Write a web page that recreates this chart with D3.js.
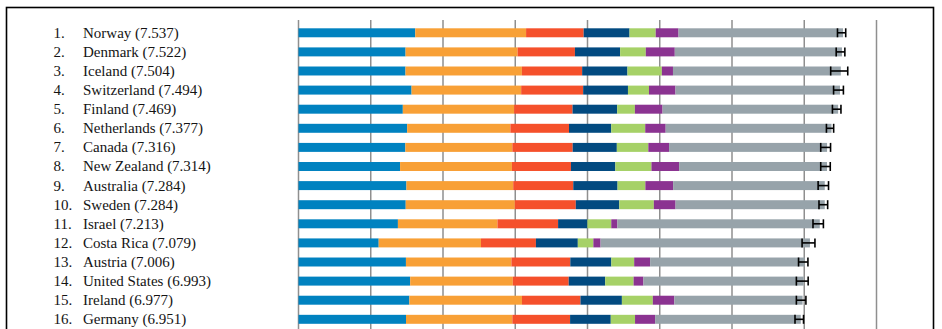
<!DOCTYPE html>
<html>
<head>
<meta charset="utf-8">
<script src="https://cdn.jsdelivr.net/npm/d3@7"></script>
<style>
    body { margin: 0; background: #fff; }
    .label { font-family: "Liberation Serif", "Times New Roman", serif; font-size: 15px; fill: #141414; }
</style>
</head>
<body>
<div id="ranking"></div>
<script>
const countries = ["Norway", "Denmark", "Iceland", "Switzerland", "Finland", "Netherlands", "Canada",
    "New Zealand", "Australia", "Sweden", "Israel", "Costa Rica", "Austria", "United States", "Ireland", "Germany"];
const scores = ["7.537", "7.522", "7.504", "7.494", "7.469", "7.377", "7.316",
    "7.314", "7.284", "7.284", "7.213", "7.079", "7.006", "6.993", "6.977", "6.951"];

// explained components of each score, in stacking order
const gdpPerCapita   = [1.616, 1.482, 1.481, 1.565, 1.444, 1.504, 1.479, 1.406, 1.494, 1.484, 1.376, 1.110, 1.487, 1.546, 1.535, 1.488];
const socialSupport  = [1.534, 1.551, 1.611, 1.517, 1.540, 1.429, 1.481, 1.548, 1.478, 1.510, 1.378, 1.416, 1.460, 1.420, 1.558, 1.472];
const lifeExpectancy = [0.797, 0.793, 0.834, 0.858, 0.809, 0.811, 0.835, 0.817, 0.831, 0.844, 0.839, 0.760, 0.815, 0.774, 0.810, 0.799];
const freedom        = [0.635, 0.626, 0.627, 0.620, 0.618, 0.585, 0.611, 0.614, 0.613, 0.602, 0.406, 0.580, 0.568, 0.505, 0.573, 0.563];
const generosity     = [0.362, 0.355, 0.476, 0.291, 0.245, 0.470, 0.436, 0.500, 0.385, 0.478, 0.330, 0.215, 0.316, 0.393, 0.428, 0.336];
const corruption     = [0.316, 0.401, 0.154, 0.367, 0.383, 0.283, 0.287, 0.383, 0.384, 0.301, 0.085, 0.100, 0.221, 0.136, 0.298, 0.278];
const dystopia       = [2.277, 2.314, 2.323, 2.277, 2.430, 2.295, 2.187, 2.047, 2.099, 2.065, 2.801, 2.898, 2.139, 2.218, 1.775, 2.016];

// 95% confidence interval of each score
const whiskerLow  = [7.460, 7.442, 7.366, 7.406, 7.390, 7.307, 7.228, 7.228, 7.192, 7.204, 7.121, 6.970, 6.921, 6.891, 6.891, 6.872];
const whiskerHigh = [7.574, 7.562, 7.602, 7.542, 7.508, 7.407, 7.364, 7.360, 7.336, 7.324, 7.265, 7.148, 7.051, 7.054, 7.023, 6.990];

const gridTicks = [0, 1, 2, 3, 4, 5, 6, 7, 8];

const components = ["gdp", "social", "health", "freedom", "generosity", "corruption", "dystopia"];
const componentColors = ["#0082c0", "#f8a036", "#f5502b", "#024a80", "#a6d167", "#8b3391", "#97a3aa"];

const rows = countries.map((c, i) => ({
    country: c,
    score: scores[i],
    gdp: gdpPerCapita[i],
    social: socialSupport[i],
    health: lifeExpectancy[i],
    freedom: freedom[i],
    generosity: generosity[i],
    corruption: corruption[i],
    dystopia: dystopia[i],
    low: whiskerLow[i],
    high: whiskerHigh[i]
}));

const width = 942;
const height = 329;

const svg = d3.select('#ranking')
    .append('svg')
        .attr('viewBox', [0, 0, width, height])
        .attr('width', width)
        .attr('height', height);

const x = d3.scaleLinear()
    .domain([0, 8])
    .range([298.5, 876.5]);

const y = d3.scaleBand()
    .domain(countries)
    .range([28.3, 323.8])
    .paddingInner(0.53)
    .paddingOuter(0);

const color = d3.scaleOrdinal()
    .domain(components)
    .range(componentColors);

// frame round the figure
svg.append('rect')
    .attr('x', 6.5)
    .attr('y', 7.5)
    .attr('width', 927)
    .attr('height', 400)
    .attr('fill', 'none')
    .attr('stroke', '#000')
    .attr('stroke-width', 1.6);

// vertical grid lines, behind the bars
svg.append('g')
    .selectAll('line')
    .data(gridTicks)
    .join('line')
        .attr('x1', d => x(d))
        .attr('x2', d => x(d))
        .attr('y1', 20)
        .attr('y2', height)
        .attr('stroke', '#8f8f8f')
        .attr('stroke-width', 1.5);

const stacked = d3.stack().keys(components)(rows);

svg.append('g')
    .selectAll('g')
    .data(stacked)
    .join('g')
        .attr('fill', d => color(d.key))
    .selectAll('rect')
    .data(d => d)
    .join('rect')
        .attr('x', d => x(d[0]))
        .attr('y', d => y(d.data.country))
        .attr('width', d => x(d[1]) - x(d[0]))
        .attr('height', y.bandwidth());

// confidence whiskers
const whiskers = svg.append('g')
    .attr('stroke', '#000')
    .attr('stroke-width', 1.6)
    .selectAll('g')
    .data(rows)
    .join('g')
        .attr('transform', d => `translate(0,${y(d.country) + y.bandwidth() / 2})`);

whiskers.append('line')
    .attr('x1', d => x(d.low))
    .attr('x2', d => x(d.high));

whiskers.append('line')
    .attr('x1', d => x(d.low))
    .attr('x2', d => x(d.low))
    .attr('y1', -4.5)
    .attr('y2', 4.5);

whiskers.append('line')
    .attr('x1', d => x(d.high))
    .attr('x2', d => x(d.high))
    .attr('y1', -4.5)
    .attr('y2', 4.5);

// rank and country labels
svg.selectAll('.label-rank')
    .data(rows)
    .join('text')
        .attr('class', 'label label-rank')
        .attr('x', 53.5)
        .attr('y', d => y(d.country) + y.bandwidth() / 2 + 5)
        .text((d, i) => `${i + 1}.`);

svg.selectAll('.label-country')
    .data(rows)
    .join('text')
        .attr('class', 'label label-country')
        .attr('x', 83)
        .attr('y', d => y(d.country) + y.bandwidth() / 2 + 5)
        .text(d => `${d.country} (${d.score})`);
</script>
</body>
</html>
